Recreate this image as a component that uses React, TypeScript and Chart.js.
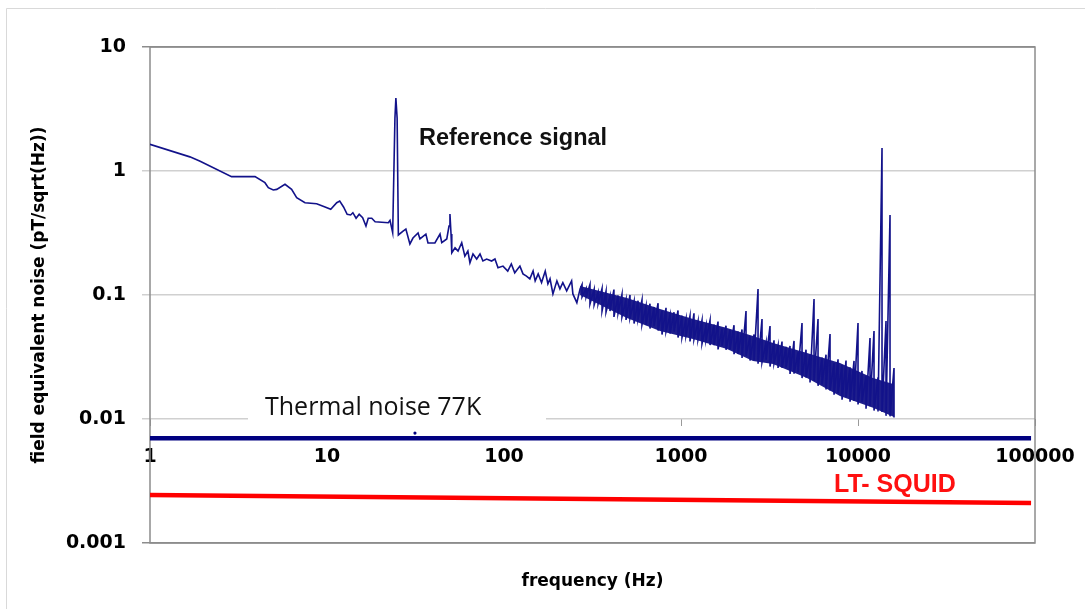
import React, { useEffect, useRef } from "react";
import { Chart, registerables } from "chart.js";

Chart.register(...registerables);

// ---- axes ----
const xTickValues = [1, 10, 100, 1000, 10000, 100000];
const yTickValues = [0.001, 0.01, 0.1, 1, 10];
const xTitle = "frequency (Hz)";
const yTitle = "field equivalent noise (pT/sqrt(Hz))";

// ---- measured spectrum, low-frequency part (Hz, pT/sqrt(Hz)) ----
const lowHz = [
  1, 1.68, 1.92, 2.89, 3.92, 4.46, 4.66, 4.97, 5.2, 5.79,
  6.31, 6.74, 7.51, 8.74, 9.75, 10.5, 11.35, 11.8, 12.4, 13.0,
  13.6, 14.0, 14.6, 15.2, 15.9, 16.6, 17.1, 17.9, 18.7, 22.2,
  22.7, 23.5, 24.2, 24.5, 24.9, 25.3, 26.9, 27.9, 29.4, 30.6,
  32.7, 33.5, 36.2, 37.2, 40.7, 43.5, 44.5, 47.5, 48.9, 49.5,
  50.2, 50.7, 52.9, 55.0, 57.7, 60.1, 62.5, 64.2, 66.8, 70.1,
  73.2, 76.0, 79.8, 85.1, 88.9, 92.5, 98.7, 105, 110, 115,
  123, 128, 134, 140, 146, 150, 156, 163, 171, 177,
  182, 189, 199, 207, 215, 226, 241, 245, 258, 269,
];
const lowNoise = [
  1.64, 1.30, 1.20, 0.90, 0.90, 0.805, 0.733, 0.703, 0.711, 0.781,
  0.711, 0.609, 0.555, 0.545, 0.513, 0.491, 0.555, 0.573, 0.513, 0.448,
  0.442, 0.461, 0.416, 0.448, 0.42, 0.36, 0.416, 0.416, 0.39, 0.383,
  0.40, 0.318, 2.67, 3.88, 2.67, 0.305, 0.328, 0.34, 0.258, 0.288,
  0.316, 0.283, 0.31, 0.263, 0.263, 0.31, 0.264, 0.283, 0.36, 0.45,
  0.31, 0.219, 0.24, 0.226, 0.264, 0.206, 0.226, 0.182, 0.214, 0.195,
  0.214, 0.188, 0.195, 0.188, 0.195, 0.166, 0.171, 0.156, 0.178, 0.151,
  0.171, 0.148, 0.142, 0.135, 0.156, 0.13, 0.148, 0.126, 0.156, 0.123,
  0.135, 0.102, 0.13, 0.112, 0.126, 0.108, 0.13, 0.102, 0.0867, 0.112,
];

// ---- measured spectrum, dense high-frequency band (peak / trough per bin) ----
const bandHz = [
  276, 291, 306, 323, 340, 358, 377, 397, 418, 441,
  464, 489, 515, 543, 572, 602, 634, 668, 704, 742,
  781, 823, 867, 913, 962, 1013, 1067, 1124, 1184, 1248,
  1314, 1385, 1459, 1537, 1619, 1705, 1796, 1892, 1993, 2100,
  2212, 2330, 2455, 2586, 2724, 2869, 3023, 3184, 3354, 3533,
  3722, 3921, 4130, 4351, 4583, 4828, 5086, 5358, 5644, 5945,
  6263, 6597, 6950, 7321, 7712, 8124, 8558, 9015, 9496, 10002,
  10536, 11099, 11692, 12316, 12974, 13667, 14397, 15166, 15976,
];
const bandPeak = [
  0.1215, 0.1128, 0.1215, 0.1107, 0.1047, 0.1128, 0.1067, 0.0973, 0.1107, 0.0991,
  0.101, 0.0914, 0.1, 0.089, 0.0899, 0.0911, 0.0811, 0.0851, 0.08, 0.0858,
  0.0749, 0.0789, 0.069, 0.0726, 0.075, 0.0681, 0.0641, 0.0677, 0.0712, 0.0614,
  0.0624, 0.0568, 0.0623, 0.0577, 0.0611, 0.0535, 0.0565, 0.0524, 0.0571, 0.0508,
  0.0527, 0.0743, 0.0467, 0.0481, 0.1118, 0.064, 0.0413, 0.0562, 0.0431, 0.0391,
  0.0421, 0.0382, 0.0388, 0.0426, 0.0345, 0.0594, 0.0362, 0.0329, 0.0928, 0.064,
  0.0313, 0.033, 0.0485, 0.0282, 0.0303, 0.0273, 0.0296, 0.0261, 0.0294, 0.0594,
  0.0244, 0.0223, 0.045, 0.0512, 0.0217, 1.53, 0.0617, 0.442, 0.0258,
];
const bandTrough = [
  0.0964, 0.0964, 0.0846, 0.0831, 0.0846, 0.0743, 0.0729, 0.0743, 0.0665, 0.0716,
  0.0665, 0.0629, 0.0652, 0.0589, 0.064, 0.0578, 0.0573, 0.0537, 0.0562, 0.0517,
  0.048, 0.0507, 0.0489, 0.0507, 0.0454, 0.0454, 0.0471, 0.0422, 0.0439, 0.0438,
  0.0405, 0.0434, 0.0395, 0.0394, 0.0364, 0.0391, 0.0362, 0.0364, 0.0333, 0.0334,
  0.0311, 0.0323, 0.0296, 0.0298, 0.0279, 0.0287, 0.03, 0.0265, 0.0281, 0.0258,
  0.0259, 0.0261, 0.0231, 0.0232, 0.0238, 0.0214, 0.0216, 0.0197, 0.0203, 0.0185,
  0.019, 0.0173, 0.017, 0.0157, 0.0162, 0.0143, 0.015, 0.0138, 0.014, 0.0131,
  0.0137, 0.0121, 0.0127, 0.0117, 0.0115, 0.0114, 0.0106, 0.0105, 0.0103,
];

// ---- solid core of the dense band (upper / lower edge) ----
const coreHz = [269, 495, 761, 1169, 1820, 2553, 3311, 5150, 7910, 12160, 15976];
const coreUpper = [0.1182, 0.0946, 0.0771, 0.064, 0.0542, 0.0467, 0.041, 0.0341, 0.0283, 0.0214, 0.0191];
const coreLower = [0.1, 0.0652, 0.0512, 0.0442, 0.0367, 0.0294, 0.0278, 0.0214, 0.0153, 0.0123, 0.0104];

// ---- reference levels ----
const thermalHz = [1, 95000];
const thermalNoise = [0.007, 0.007];
const squidHz = [1, 95000];
const squidNoise = [0.00244, 0.0021];
const strayHz = [31.4];
const strayNoise = [0.0077];

// ---- annotation texts ----
const refSignalText = "Reference signal";
const thermalText = "Thermal noise 77K";
const squidText = "LT- SQUID";

const xTickFont = { family: "'DejaVu Sans', sans-serif", size: 19, weight: "bold" as const, lineHeight: 2.35 };
const yTickFont = { family: "'DejaVu Sans', sans-serif", size: 19, weight: "bold" as const };
const boldTitle = { family: "'DejaVu Sans', sans-serif", size: 17, weight: "bold" as const };

export default function App() {
  const ref = useRef<HTMLCanvasElement>(null);

  useEffect(() => {
    if (!ref.current) return;
    const spectrum: { x: number; y: number }[] = lowHz.map((f, i) => ({ x: f, y: lowNoise[i] }));
    bandHz.forEach((f, i) => {
      spectrum.push({ x: f, y: bandPeak[i] });
      spectrum.push({ x: f, y: bandTrough[i] });
    });

    const decorPlugin = {
      id: "decor",
      beforeDraw(chart: any) {
        const ctx = chart.ctx;
        ctx.save();
        ctx.fillStyle = "#ffffff";
        ctx.fillRect(0, 0, chart.width, chart.height);
        ctx.strokeStyle = "#d9d9d9";
        ctx.lineWidth = 1;
        ctx.beginPath();
        ctx.moveTo(6.5, chart.height);
        ctx.lineTo(6.5, 8.5);
        ctx.lineTo(chart.width, 8.5);
        ctx.stroke();
        ctx.restore();
      },
      beforeDatasetsDraw(chart: any) {
        const { ctx, chartArea: a } = chart;
        ctx.save();
        ctx.strokeStyle = "#8c8c8c";
        ctx.lineWidth = 1.5;
        ctx.strokeRect(a.left, a.top, a.right - a.left, a.bottom - a.top);
        ctx.fillStyle = "#ffffff";
        ctx.fillRect(248, 390, 298, 37);
        ctx.fillStyle = "#111111";
        ctx.font = "25px 'Open Sans', sans-serif";
        ctx.textBaseline = "alphabetic";
        ctx.textAlign = "left";
        ctx.fillText(thermalText, 265, 415);
        ctx.restore();
      },
      afterDatasetsDraw(chart: any) {
        const ctx = chart.ctx;
        ctx.save();
        ctx.textBaseline = "alphabetic";
        ctx.textAlign = "left";
        ctx.fillStyle = "#111111";
        ctx.font = "bold 23.5px 'Liberation Sans', Arial, sans-serif";
        ctx.fillText(refSignalText, 419, 145);
        ctx.fillStyle = "#ff1010";
        ctx.font = "bold 25px 'Liberation Sans', Arial, sans-serif";
        ctx.fillText(squidText, 834, 492);
        ctx.restore();
      },
    };

    const chart = new Chart(ref.current, {
      type: "line",
      data: {
        datasets: [
          {
            label: "spectrum",
            data: spectrum,
            borderColor: "#12128a",
            borderWidth: 1.6,
            pointRadius: 0,
            tension: 0,
            fill: false,
          },
          {
            label: "core upper",
            data: coreHz.map((f, i) => ({ x: f, y: coreUpper[i] })),
            borderWidth: 0,
            borderColor: "rgba(0,0,0,0)",
            pointRadius: 0,
            fill: false,
          },
          {
            label: "core lower",
            data: coreHz.map((f, i) => ({ x: f, y: coreLower[i] })),
            borderWidth: 0,
            borderColor: "rgba(0,0,0,0)",
            backgroundColor: "rgba(6,6,128,0.9)",
            pointRadius: 0,
            fill: "-1",
          },
          {
            label: "thermal",
            data: thermalHz.map((f, i) => ({ x: f, y: thermalNoise[i] })),
            borderColor: "#000080",
            borderWidth: 4.5,
            pointRadius: 0,
            fill: false,
          },
          {
            label: "squid",
            data: squidHz.map((f, i) => ({ x: f, y: squidNoise[i] })),
            borderColor: "#ff0000",
            borderWidth: 4.5,
            pointRadius: 0,
            fill: false,
          },
          {
            label: "stray",
            data: strayHz.map((f, i) => ({ x: f, y: strayNoise[i] })),
            showLine: false,
            pointRadius: 1.6,
            pointBackgroundColor: "#000080",
            pointBorderWidth: 0,
            borderColor: "#000080",
          },
        ],
      },
      options: {
        animation: false,
        responsive: true,
        maintainAspectRatio: false,
        layout: { padding: { left: 8, top: 47, right: 50, bottom: 66 } },
        plugins: { legend: { display: false }, tooltip: { enabled: false } },
        scales: {
          x: {
            type: "logarithmic",
            min: 1,
            max: 100000,
            position: { y: 0.01 } as any,
            afterBuildTicks: (s: any) => {
              s.ticks = xTickValues.map((v) => ({ value: v }));
            },
            afterFit: (s: any) => {
              s.height = 177;
            },
            ticks: {
              callback: (v: any) => String(v),
              font: xTickFont,
              color: "#000000",
              padding: 9,
              maxRotation: 0,
              autoSkip: false,
            },
            grid: { display: true, drawOnChartArea: false, drawTicks: true, tickLength: 7, color: "#9a9a9a", lineWidth: 1 },
            border: { display: false },
            title: { display: true, text: xTitle, font: boldTitle, color: "#000000", padding: { top: 4, bottom: 4 } },
          },
          y: {
            type: "logarithmic",
            min: 0.001,
            max: 10,
            position: "left",
            afterBuildTicks: (s: any) => {
              s.ticks = yTickValues.map((v) => ({ value: v }));
            },
            afterFit: (s: any) => {
              s.width = 142;
            },
            ticks: {
              callback: (v: any) => String(v),
              font: yTickFont,
              color: "#000000",
              padding: 16,
              autoSkip: false,
            },
            grid: {
              color: (c: any) =>
                c.tick && (c.tick.value === 10 || c.tick.value === 0.001) ? "#8c8c8c" : "#d0d0d0",
              lineWidth: 1.5,
              tickLength: 8,
            },
            border: { display: false },
            title: { display: true, text: yTitle, font: boldTitle, color: "#000000", padding: { top: 21, bottom: 4 } },
          },
        },
      },
      plugins: [decorPlugin],
    } as any);

    return () => chart.destroy();
  }, []);

  return (
    <div style={{ position: "absolute", left: 0, top: 0, width: 1085, height: 609 }}>
      <canvas ref={ref} />
    </div>
  );
}
